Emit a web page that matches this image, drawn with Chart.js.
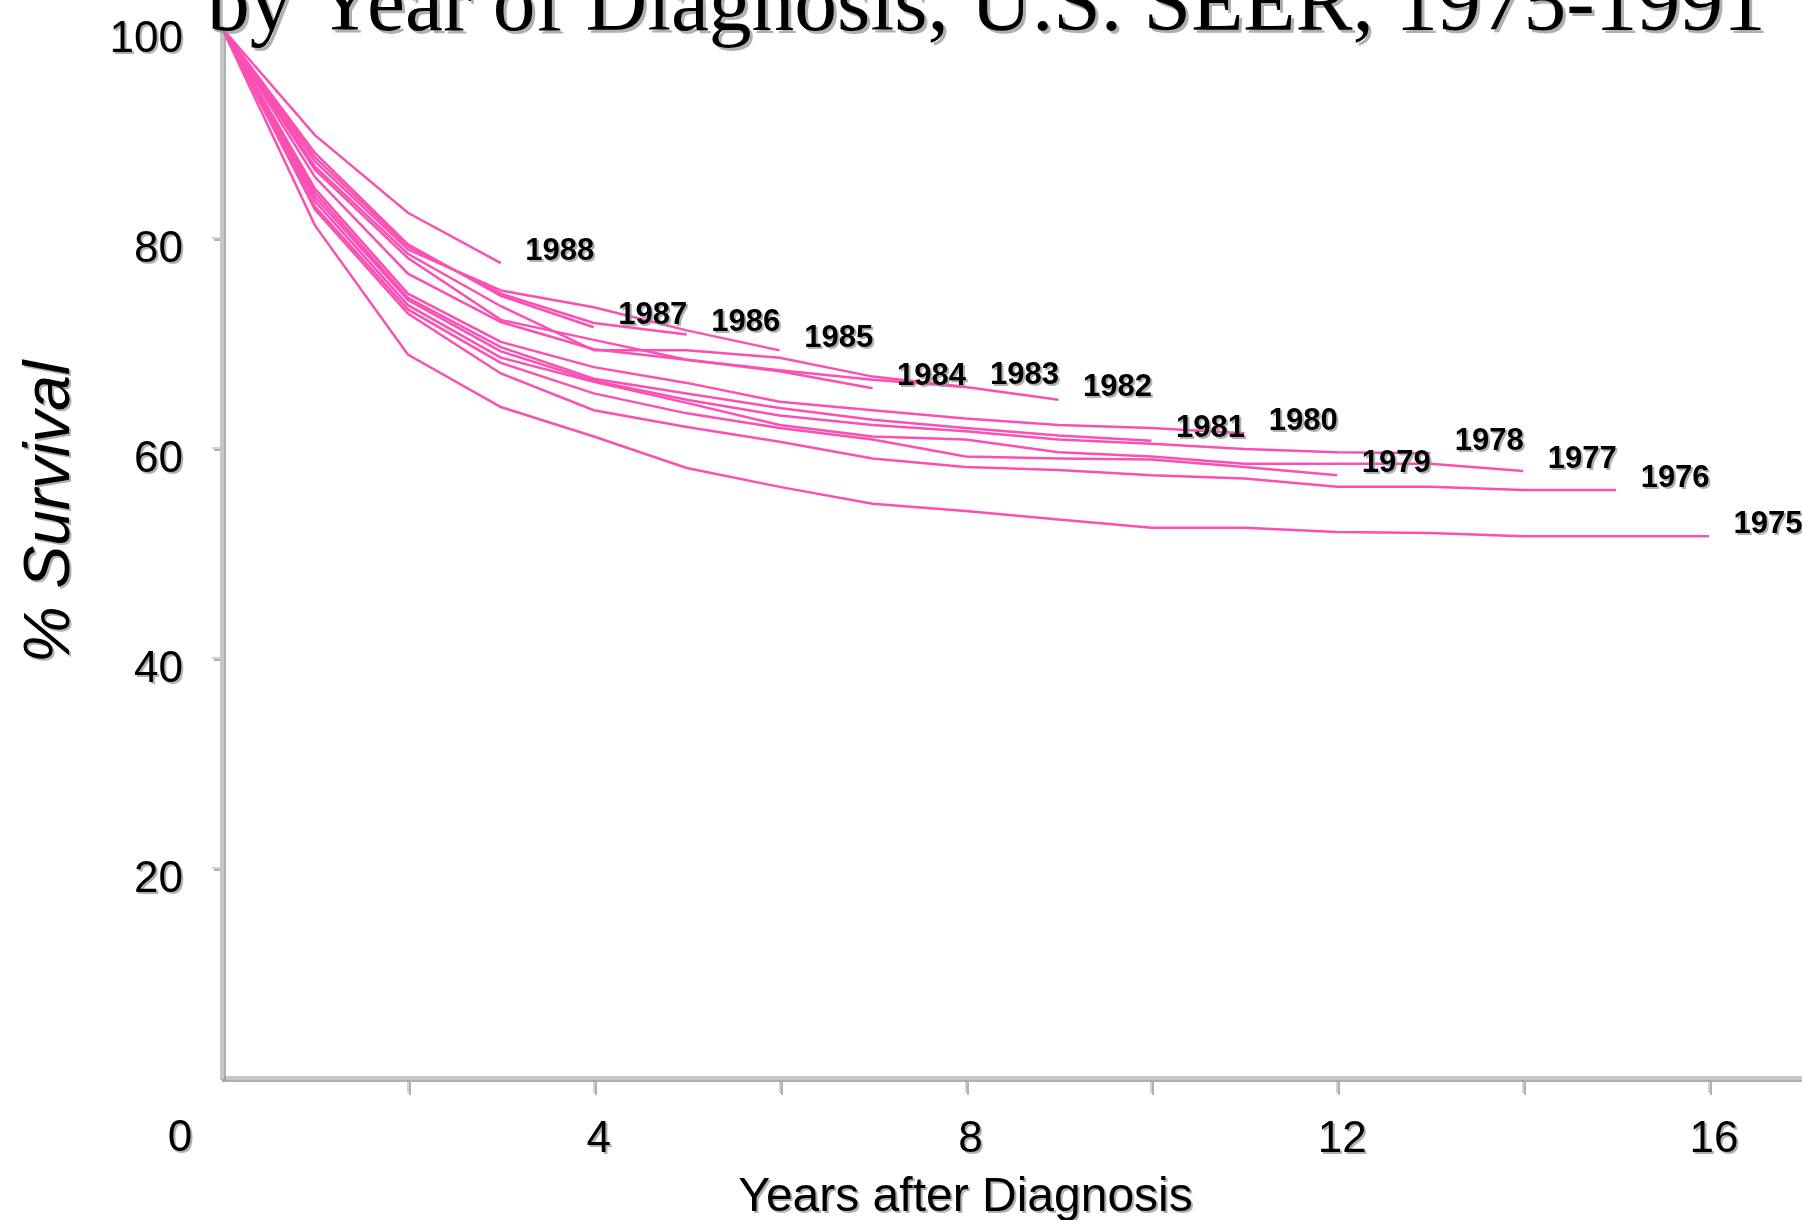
<!DOCTYPE html>
<html>
<head>
<meta charset="utf-8">
<title>% Survival by Year of Diagnosis</title>
<script src="https://cdn.jsdelivr.net/npm/chart.js@4.4.1/dist/chart.umd.min.js"></script>
<style>
  html, body { margin: 0; padding: 0; background: #fff; overflow: hidden; }
  #wrap { width: 1802px; height: 1220px; }
</style>
</head>
<body>
<div id="wrap"><canvas id="container" width="1802" height="1220"></canvas></div>
<script>
// years after diagnosis (x axis)
const yearsAfter = [0, 1, 2, 3, 4, 5, 6, 7, 8, 9, 10, 11, 12, 13, 14, 15, 16]
const xTickLabels = [4, 8, 12, 16]
const yTickLabels = [20, 40, 60, 80, 100]

// % survival per diagnosis year
const surv1975 = [100, 81.2, 68.9, 63.9, 61.1, 58.1, 56.3, 54.7, 54.0, 53.2, 52.4, 52.4, 52.0, 51.9, 51.6, 51.6, 51.6]
const surv1976 = [100, 82.7, 72.8, 67.1, 63.6, 62.0, 60.6, 59.0, 58.2, 57.9, 57.4, 57.1, 56.3, 56.3, 56.0, 56.0]
const surv1977 = [100, 83.5, 73.6, 68.6, 66.3, 64.3, 62.2, 61.1, 60.8, 59.6, 59.2, 58.5, 58.5, 58.5, 57.8]
const surv1978 = [100, 83.9, 74.1, 69.2, 66.4, 64.6, 63.1, 62.2, 61.6, 60.8, 60.4, 59.9, 59.6, 59.5]
const surv1979 = [100, 83.0, 73.2, 68.1, 65.2, 63.3, 61.9, 60.8, 59.2, 59.0, 58.9, 58.2, 57.4]
const surv1980 = [100, 84.7, 74.7, 70.1, 67.7, 66.2, 64.4, 63.6, 62.8, 62.2, 61.9, 61.4]
const surv1981 = [100, 84.3, 74.3, 69.6, 66.6, 65.2, 63.8, 62.7, 61.9, 61.2, 60.7]
const surv1982 = [100, 86.8, 78.5, 73.5, 69.3, 69.3, 68.6, 66.8, 65.8, 64.6]
const surv1983 = [100, 86.5, 78.1, 72.2, 70.3, 68.4, 67.4, 66.5, 65.8]
const surv1984 = [100, 85.8, 76.6, 72.0, 69.4, 68.4, 67.3, 65.7]
const surv1985 = [100, 87.3, 78.9, 75.0, 73.4, 71.2, 69.3]
const surv1986 = [100, 87.7, 79.2, 74.7, 71.9, 70.8]
const surv1987 = [100, 88.1, 79.4, 74.5, 71.5]
const surv1988 = [100, 89.8, 82.4, 77.6]

const cohorts = ['1975', '1976', '1977', '1978', '1979', '1980', '1981', '1982', '1983', '1984', '1985', '1986', '1987', '1988']
const cohortValues = [surv1975, surv1976, surv1977, surv1978, surv1979, surv1980, surv1981,
  surv1982, surv1983, surv1984, surv1985, surv1986, surv1987, surv1988]

const titleText = 'by Year of Diagnosis, U.S. SEER, 1975-1991'
const xTitle = 'Years after Diagnosis'
const yTitle = '% Survival'

const pink = '#fa50b4'
const sans = '"Liberation Sans", Arial, sans-serif'
const serif = '"Liberation Serif", "Times New Roman", serif'

Chart.defaults.font.family = sans

const datasets = cohorts.map((label, i) => ({
  label: label,
  data: cohortValues[i].map((v, k) => ({ x: yearsAfter[k], y: v })),
  borderColor: pink,
  backgroundColor: pink,
  borderWidth: 2.5,
  pointRadius: 0,
  tension: 0,
  fill: false,
  clip: false
}))

const setShadow = (ctx, off) => {
  ctx.shadowColor = 'rgba(150,150,150,0.75)'
  ctx.shadowBlur = 0
  ctx.shadowOffsetX = off
  ctx.shadowOffsetY = off
}

// slide text: title, axis titles, corner zero, year labels at line ends
const slideText = {
  id: 'slideText',
  beforeDraw(chart) {
    chart.ctx.save()
    setShadow(chart.ctx, 2)
  },
  beforeDatasetsDraw(chart) {
    chart.ctx.restore()
  },
  afterDraw(chart) {
    const ctx = chart.ctx
    const xs = chart.scales.x
    ctx.save()
    ctx.fillStyle = '#000'

    setShadow(ctx, 3)
    ctx.font = '85.5px ' + serif
    ctx.textAlign = 'left'
    ctx.textBaseline = 'alphabetic'
    ctx.fillText(titleText, 207, 30)

    setShadow(ctx, 2)
    ctx.font = '48px ' + sans
    ctx.textAlign = 'center'
    ctx.fillText(xTitle, xs.getPixelForValue(8), 1211)

    ctx.font = '44px ' + sans
    ctx.textBaseline = 'middle'
    ctx.fillText('0', 180, 1139)

    ctx.save()
    ctx.translate(69, 512)
    ctx.rotate(-Math.PI / 2)
    ctx.font = 'italic 64px ' + sans
    ctx.textBaseline = 'alphabetic'
    ctx.fillText(yTitle, 0, 0)
    ctx.restore()

    ctx.font = 'bold 31px ' + sans
    ctx.textBaseline = 'middle'
    chart.data.datasets.forEach((ds, i) => {
      const pts = chart.getDatasetMeta(i).data
      const last = pts[pts.length - 1]
      ctx.fillText(ds.label, last.x + 59, last.y - 12)
    })
    ctx.restore()
  }
}

const ctx = document.querySelector('#container')
const survivalChart = new Chart(ctx, {
  type: 'line',
  data: { datasets: datasets },
  plugins: [slideText],
  options: {
    responsive: false,
    animation: false,
    devicePixelRatio: 1,
    layout: { autoPadding: false, padding: { top: 28, left: 0, right: 0, bottom: 0 } },
    plugins: {
      legend: { display: false },
      tooltip: { enabled: false },
      title: { display: false }
    },
    scales: {
      x: {
        type: 'linear',
        min: 0,
        max: 17,
        afterBuildTicks: scale => {
          scale.ticks = yearsAfter.filter(v => v > 0 && v % 2 === 0).map(v => ({ value: v }))
        },
        afterFit: scale => {
          scale.height = 142
          scale.paddingLeft = 0
          scale.paddingRight = 0
        },
        border: { display: true, color: '#c6c6c6', width: 4 },
        grid: { drawOnChartArea: false, drawTicks: true, tickLength: 15, color: '#d2d2d2', lineWidth: 2 },
        ticks: {
          autoSkip: false,
          maxRotation: 0,
          padding: 20,
          labelOffset: 5,
          color: '#000',
          font: { size: 44 },
          callback: v => xTickLabels.includes(v) ? String(v) : ''
        }
      },
      y: {
        min: 0,
        max: 100,
        afterBuildTicks: scale => {
          scale.ticks = yTickLabels.map(v => ({ value: v }))
        },
        afterFit: scale => {
          scale.width = 222
          scale.paddingTop = 0
          scale.paddingBottom = 0
        },
        border: { display: true, color: '#c6c6c6', width: 4 },
        grid: { drawOnChartArea: false, drawTicks: true, tickLength: 10, color: '#d2d2d2', lineWidth: 2 },
        ticks: {
          autoSkip: false,
          padding: 29,
          labelOffset: 12,
          color: '#000',
          font: { size: 44 },
          callback: v => String(v)
        }
      }
    }
  }
})
</script>
</body>
</html>
